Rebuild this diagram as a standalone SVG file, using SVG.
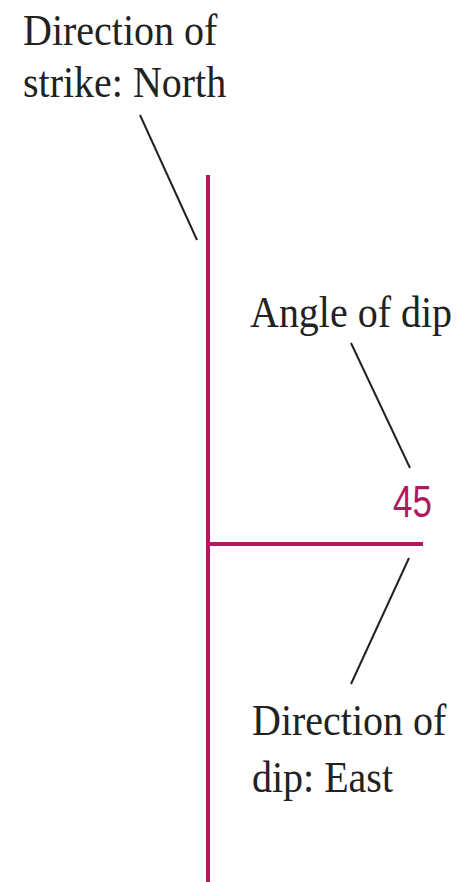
<svg xmlns="http://www.w3.org/2000/svg" width="467" height="882" viewBox="0 0 467 882">
<style>
.lbl{font-family:"Liberation Serif","Times New Roman",serif;font-size:40px;fill:#222}
.num{font-family:"Liberation Sans",Arial,sans-serif;font-size:36px;fill:#b0185a}
.ptr{stroke:#222;stroke-width:2;fill:none}
.mag{stroke:#b8195e;stroke-width:4;fill:none}
</style>
<rect width="467" height="882" fill="#fff"/>
<g id="strike-line"><line class="mag" x1="208" y1="175" x2="208" y2="882"/></g>
<g id="dip-line"><line class="mag" x1="208" y1="544" x2="423" y2="544"/></g>
<g id="connectors">
<line class="ptr" x1="140" y1="115" x2="197" y2="240"/>
<line class="ptr" x1="351" y1="343" x2="410" y2="468"/>
<line class="ptr" x1="409" y1="558" x2="351" y2="684"/>
</g>
<g id="strike-label">
<text class="lbl" transform="translate(23,45) scale(1,1.1)">Direction of</text>
<text class="lbl" transform="translate(23,97) scale(1,1.1)">strike: North</text>
</g>
<g id="angle-label"><text class="lbl" transform="translate(250,327) scale(1,1.1)">Angle of dip</text></g>
<g id="angle-value"><text class="num" transform="translate(393,517) scale(0.97,1.22)">45</text></g>
<g id="dip-label">
<text class="lbl" transform="translate(252,735) scale(1,1.1)">Direction of</text>
<text class="lbl" transform="translate(252,792) scale(1,1.1)">dip: East</text>
</g>
</svg>
